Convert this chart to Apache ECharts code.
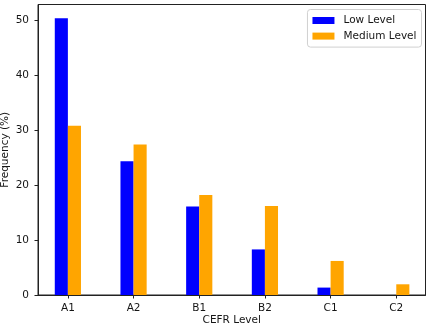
<!DOCTYPE html>
<html>
<head>
<meta charset="utf-8">
<script src="https://cdn.jsdelivr.net/npm/echarts@6/dist/echarts.min.js"></script>
<style>
html,body{margin:0;padding:0;background:#fff;}
#c{width:430px;height:326px;}
</style>
</head>
<body>
<div id="c"></div>
<script>
const categories = ['A1', 'A2', 'B1', 'B2', 'C1', 'C2'];
const lowLevel = [50.4, 24.35, 16.1, 8.3, 1.35, 0];
const mediumLevel = [30.8, 27.4, 18.2, 16.2, 6.2, 1.95];
const yTicks = [0, 10, 20, 30, 40, 50];

const font = 'DejaVu Sans';
const fs = 10.5;
const txt = '#151515';
const idx = categories.map((c, i) => i);

const chart = echarts.init(document.getElementById('c'), null, {renderer: 'canvas'});
chart.setOption({
  animation: false,
  backgroundColor: '#fff',
  textStyle: {fontFamily: font},
  grid: {left: 38, right: 4.5, top: 4.5, bottom: 31, show: true, borderColor: '#222', borderWidth: 1,
    containLabel: false, outerBoundsMode: 'none'},
  legend: {
    orient: 'vertical', right: 8.5, top: 9.5, align: 'left',
    itemWidth: 22, itemHeight: 7, itemGap: 3.6,
    padding: 5, borderColor: '#d0d0d0', borderWidth: 1, borderRadius: 3,
    backgroundColor: 'rgba(255,255,255,0.8)',
    icon: 'rect',
    textStyle: {fontFamily: font, fontSize: fs, color: txt, lineHeight: 12, padding: [0, 0, 0, 4]},
    data: ['Low Level', 'Medium Level']
  },
  xAxis: {
    type: 'value', min: -0.455, max: 5.445,
    name: 'CEFR Level', nameLocation: 'middle', nameGap: 19.5, nameMoveOverlap: false,
    nameTextStyle: {fontFamily: font, fontSize: fs, color: txt},
    axisLine: {show: true, onZero: false, lineStyle: {color: '#222', width: 1}},
    axisTick: {show: true, length: 3.5, lineStyle: {color: '#222'}, customValues: idx},
    axisLabel: {fontFamily: font, fontSize: fs, color: txt, margin: 8, customValues: idx,
      formatter: v => categories[Math.round(v)]},
    splitLine: {show: false}
  },
  yAxis: {
    type: 'value', min: 0, max: 52.9,
    name: 'Frequency (%)', nameLocation: 'middle', nameGap: 27, nameMoveOverlap: false,
    nameTextStyle: {fontFamily: font, fontSize: fs, color: txt},
    axisLine: {show: true, onZero: false, lineStyle: {color: '#222', width: 1}},
    axisTick: {show: true, length: 3.5, lineStyle: {color: '#222'}, customValues: yTicks},
    axisLabel: {fontFamily: font, fontSize: fs, color: txt, margin: 9, customValues: yTicks},
    splitLine: {show: false}
  },
  series: [
    {name: 'Low Level', type: 'bar', barWidth: 13.1, barGap: '0%',
      itemStyle: {color: '#0000ff'}, data: lowLevel.map((v, i) => [i, v])},
    {name: 'Medium Level', type: 'bar', barWidth: 13.1, barGap: '0%',
      itemStyle: {color: '#ffa500'}, data: mediumLevel.map((v, i) => [i, v])}
  ]
});
</script>
</body>
</html>
